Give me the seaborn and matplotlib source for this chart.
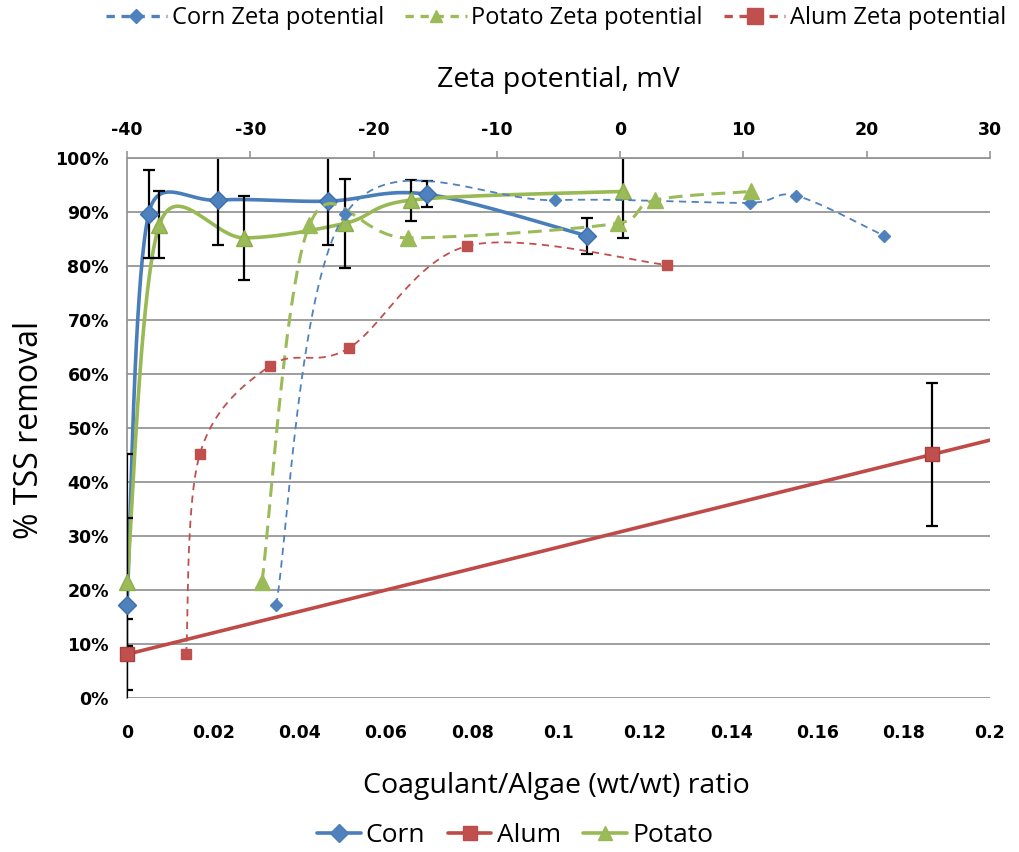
import numpy as np
import pandas as pd
import matplotlib
matplotlib.use("Agg")
import matplotlib.pyplot as plt
from matplotlib.lines import Line2D
from matplotlib.ticker import PercentFormatter, MultipleLocator
import seaborn as sns

# ---- data -------------------------------------------------------------
# dose series (coagulant/algae wt/wt ratio vs TSS removal, fraction)
corn_dose = [0.0, 0.005, 0.021, 0.0465, 0.0695, 0.1065]
corn_tss = [0.172, 0.896, 0.922, 0.920, 0.933, 0.856]
corn_err = [0.28, 0.082, 0.083, 0.081, 0.024, 0.033]

potato_dose = [0.0, 0.0075, 0.0272, 0.0505, 0.0658, 0.1149]
potato_tss = [0.215, 0.876, 0.852, 0.879, 0.922, 0.938]
potato_err = [0.118, 0.062, 0.077, 0.083, 0.038, 0.087]

alum_dose = [0.0, 0.1866]
alum_tss = [0.081, 0.451]
alum_err = [0.066, 0.133]

# zeta potential series (mV vs TSS removal)
corn_zeta = [-27.9, -22.3, -5.3, 10.5, 14.3, 21.4]
corn_zeta_tss = [0.172, 0.896, 0.922, 0.917, 0.930, 0.856]
potato_zeta = [-29.05, -25.2, -17.2, -0.2, 2.8, 10.6]
potato_zeta_tss = [0.215, 0.876, 0.852, 0.879, 0.922, 0.938]
alum_zeta = [-35.2, -34.1, -28.4, -22.0, -12.4, 3.8]
alum_zeta_tss = [0.081, 0.451, 0.615, 0.648, 0.837, 0.802]

x_ticks = [0, 0.02, 0.04, 0.06, 0.08, 0.1, 0.12, 0.14, 0.16, 0.18, 0.2]
x_tick_labels = ["0", "0.02", "0.04", "0.06", "0.08", "0.1", "0.12", "0.14", "0.16", "0.18", "0.2"]
zeta_ticks = [-40, -30, -20, -10, 0, 10, 20, 30]

# ---- style ------------------------------------------------------------
BLUE = "#4A7EBB"
RED = "#BE4B48"
GREEN = "#98B954"
GRID = "#969696"

sns.set_theme(style="white")
plt.rcParams["font.family"] = ["Open Sans", "DejaVu Sans"]
plt.rcParams["text.color"] = "black"
plt.rcParams["axes.labelcolor"] = "black"

W, H = 1020, 852
fig = plt.figure(figsize=(W / 100, H / 100), dpi=100)
L, R, T, B = 127, 990, 158, 698
ax = fig.add_axes([L / W, 1 - B / H, (R - L) / W, (B - T) / H])
ax.set_xlim(0, 0.2)
ax.set_ylim(0, 1.0)
ax2 = ax.twiny()
ax2.set_xlim(-40, 30)
ax2.set_ylim(0, 1.0)


def smooth_curve(a, xs, ys, n=40):
    """Bezier smoothing in screen space, spreadsheet style."""
    P = a.transData.transform(np.column_stack([xs, ys]))
    m = len(P)
    out = []
    for i in range(m - 1):
        p0 = P[i - 1] if i > 0 else P[i]
        p1, p2 = P[i], P[i + 1]
        p3 = P[i + 2] if i + 2 < m else P[i + 1]
        seg = np.linalg.norm(p2 - p1)
        d1 = (p2 - p0) / 6.0
        d2 = (p3 - p1) / 6.0
        for d in (d1, d2):
            ln = np.linalg.norm(d)
            if ln > 0.6 * seg and ln > 0:
                d *= 0.6 * seg / ln
        c1, c2 = p1 + d1, p2 - d2
        t = np.linspace(0, 1, n)[:, None]
        pts = ((1 - t) ** 3) * p1 + 3 * ((1 - t) ** 2) * t * c1 + 3 * (1 - t) * t ** 2 * c2 + t ** 3 * p2
        out.append(pts if i == 0 else pts[1:])
    curve = np.vstack(out)
    return a.transData.inverted().transform(curve)


def draw_smooth(a, xs, ys, color, lw, dashes=None):
    c = smooth_curve(a, xs, ys)
    df = pd.DataFrame({"x": c[:, 0], "y": c[:, 1]})
    sns.lineplot(data=df, x="x", y="y", ax=a, sort=False, estimator=None,
                 color=color, lw=lw, zorder=3)
    line = a.get_lines()[-1]
    if dashes is not None:
        line.set_linestyle((0, dashes))
    return line


# ---- gridlines ----------------------------------------------------------
ax.yaxis.set_major_locator(MultipleLocator(0.1))
ax.grid(axis="y", color=GRID, lw=1.3)
ax.grid(axis="x", visible=False)
ax.set_axisbelow(True)

# ---- zeta potential curves (top axis) ---------------------------------
draw_smooth(ax2, corn_zeta, corn_zeta_tss, "#4F81BD", 1.3, dashes=(4, 3))
draw_smooth(ax2, potato_zeta, potato_zeta_tss, "#9BBB59", 2.2, dashes=(4.5, 2.5))
draw_smooth(ax2, alum_zeta, alum_zeta_tss, "#C0504D", 1.3, dashes=(4, 3))
ax2.plot(corn_zeta, corn_zeta_tss, ls="none", marker="D", ms=6.5, color="#4F81BD", mec="#4F81BD", zorder=5)
ax2.plot(potato_zeta, potato_zeta_tss, ls="none", marker="^", ms=12, color="#9BBB59", mec="#9BBB59", zorder=5)
ax2.plot(alum_zeta, alum_zeta_tss, ls="none", marker="s", ms=6.5, color="#C0504D", mec="#C0504D", zorder=5)

# ---- dose curves (bottom axis) ----------------------------------------
draw_smooth(ax, corn_dose, corn_tss, BLUE, 2.6)
draw_smooth(ax, potato_dose, potato_tss, GREEN, 2.6)
ax.axline((alum_dose[0], alum_tss[0]), (alum_dose[1], alum_tss[1]), color=RED, lw=2.6, zorder=3)

err_kw = dict(ls="none", ecolor="black", elinewidth=1.6, capsize=4.5, capthick=1.6, zorder=4)
series = [
    (corn_dose, corn_tss, corn_err, "D", 9, "#4F81BD", "#3C6FAE"),
    (potato_dose, potato_tss, potato_err, "^", 12, "#9BBB59", "#8CAE4A"),
    (alum_dose, alum_tss, alum_err, "s", 10, "#C0504D", "#A8403D"),
]
for xs, ys, es, mk, ms, fc, ec in series:
    ax.errorbar(xs, ys, yerr=es, fmt="none", **err_kw)
    ax.plot(xs, ys, ls="none", marker=mk, ms=ms, color=fc, mec=ec, zorder=5, clip_on=False)
ax.set_xlim(0, 0.2)
ax.set_ylim(0, 1.0)

# ---- axes cosmetics ---------------------------------------------------
for s in ("top", "right", "bottom"):
    ax.spines[s].set_visible(False)
ax.spines["left"].set_color(GRID)
ax.spines["left"].set_linewidth(1.3)
for s in ("left", "right", "bottom"):
    ax2.spines[s].set_visible(False)
ax2.spines["top"].set_color(GRID)
ax2.spines["top"].set_linewidth(1.3)

tick_font = dict(family="DejaVu Sans", weight="bold", size=12.5)
ax.set_xticks(x_ticks)
ax.set_xticklabels(x_tick_labels, fontdict=tick_font)
ax.tick_params(axis="x", length=0, pad=19, labelcolor="black")
ax.yaxis.set_major_formatter(PercentFormatter(1.0, decimals=0))
ax.tick_params(axis="y", length=0, pad=13, labelcolor="black")
for lab in ax.get_yticklabels():
    lab.set_fontproperties(tick_font)

ax2.set_xticks(zeta_ticks)
ax2.set_xticklabels([str(v) for v in zeta_ticks], fontdict=tick_font)
ax2.tick_params(axis="x", direction="out", length=5, width=1.2, color=GRID, pad=9, labelcolor="black")

ax.set_xlabel("Coagulant/Algae (wt/wt) ratio", fontsize=20.5)
ax.xaxis.set_label_coords((556 - L) / (R - L), (B - 786) / (B - T))
ax.xaxis.label.set_va("center")
ax.set_ylabel("% TSS removal", fontsize=23)
ax.yaxis.set_label_coords((30 - L) / (R - L), (B - 430) / (B - T))
ax.yaxis.label.set_va("center")
ax2.set_xlabel("Zeta potential, mV", fontsize=20.5)
ax2.xaxis.set_label_coords((558 - L) / (R - L), (B - 80) / (B - T))
ax2.xaxis.label.set_va("center")

# ---- legends ----------------------------------------------------------
top_handles = [
    Line2D([], [], color="#4F81BD", lw=2.4, marker="D", ms=7, dashes=(2.5, 2)),
    Line2D([], [], color="#9BBB59", lw=2.4, marker="^", ms=9, dashes=(2.5, 2)),
    Line2D([], [], color="#C0504D", lw=2.4, marker="s", ms=11, dashes=(2.5, 2)),
]
fig.legend(top_handles, ["Corn Zeta potential", "Potato Zeta potential", "Alum Zeta potential"],
           loc="center", bbox_to_anchor=(556 / W, 1 - 18 / H), ncol=3, frameon=False,
           fontsize=17, handlelength=2.6, handletextpad=0.2, columnspacing=0.9, borderpad=0)

bot_handles = [
    Line2D([], [], color=BLUE, lw=2.6, marker="D", ms=9, mfc="#4F81BD"),
    Line2D([], [], color=RED, lw=2.6, marker="s", ms=10, mfc="#C0504D"),
    Line2D([], [], color=GREEN, lw=2.6, marker="^", ms=10, mfc="#9BBB59"),
]
fig.legend(bot_handles, ["Corn", "Alum", "Potato"], loc="center",
           bbox_to_anchor=(515 / W, 1 - 836 / H), ncol=3, frameon=False,
           fontsize=19, handlelength=1.65, handletextpad=0.2, columnspacing=0.85, borderpad=0)

fig.savefig("out.png", dpi=100, facecolor="white")
